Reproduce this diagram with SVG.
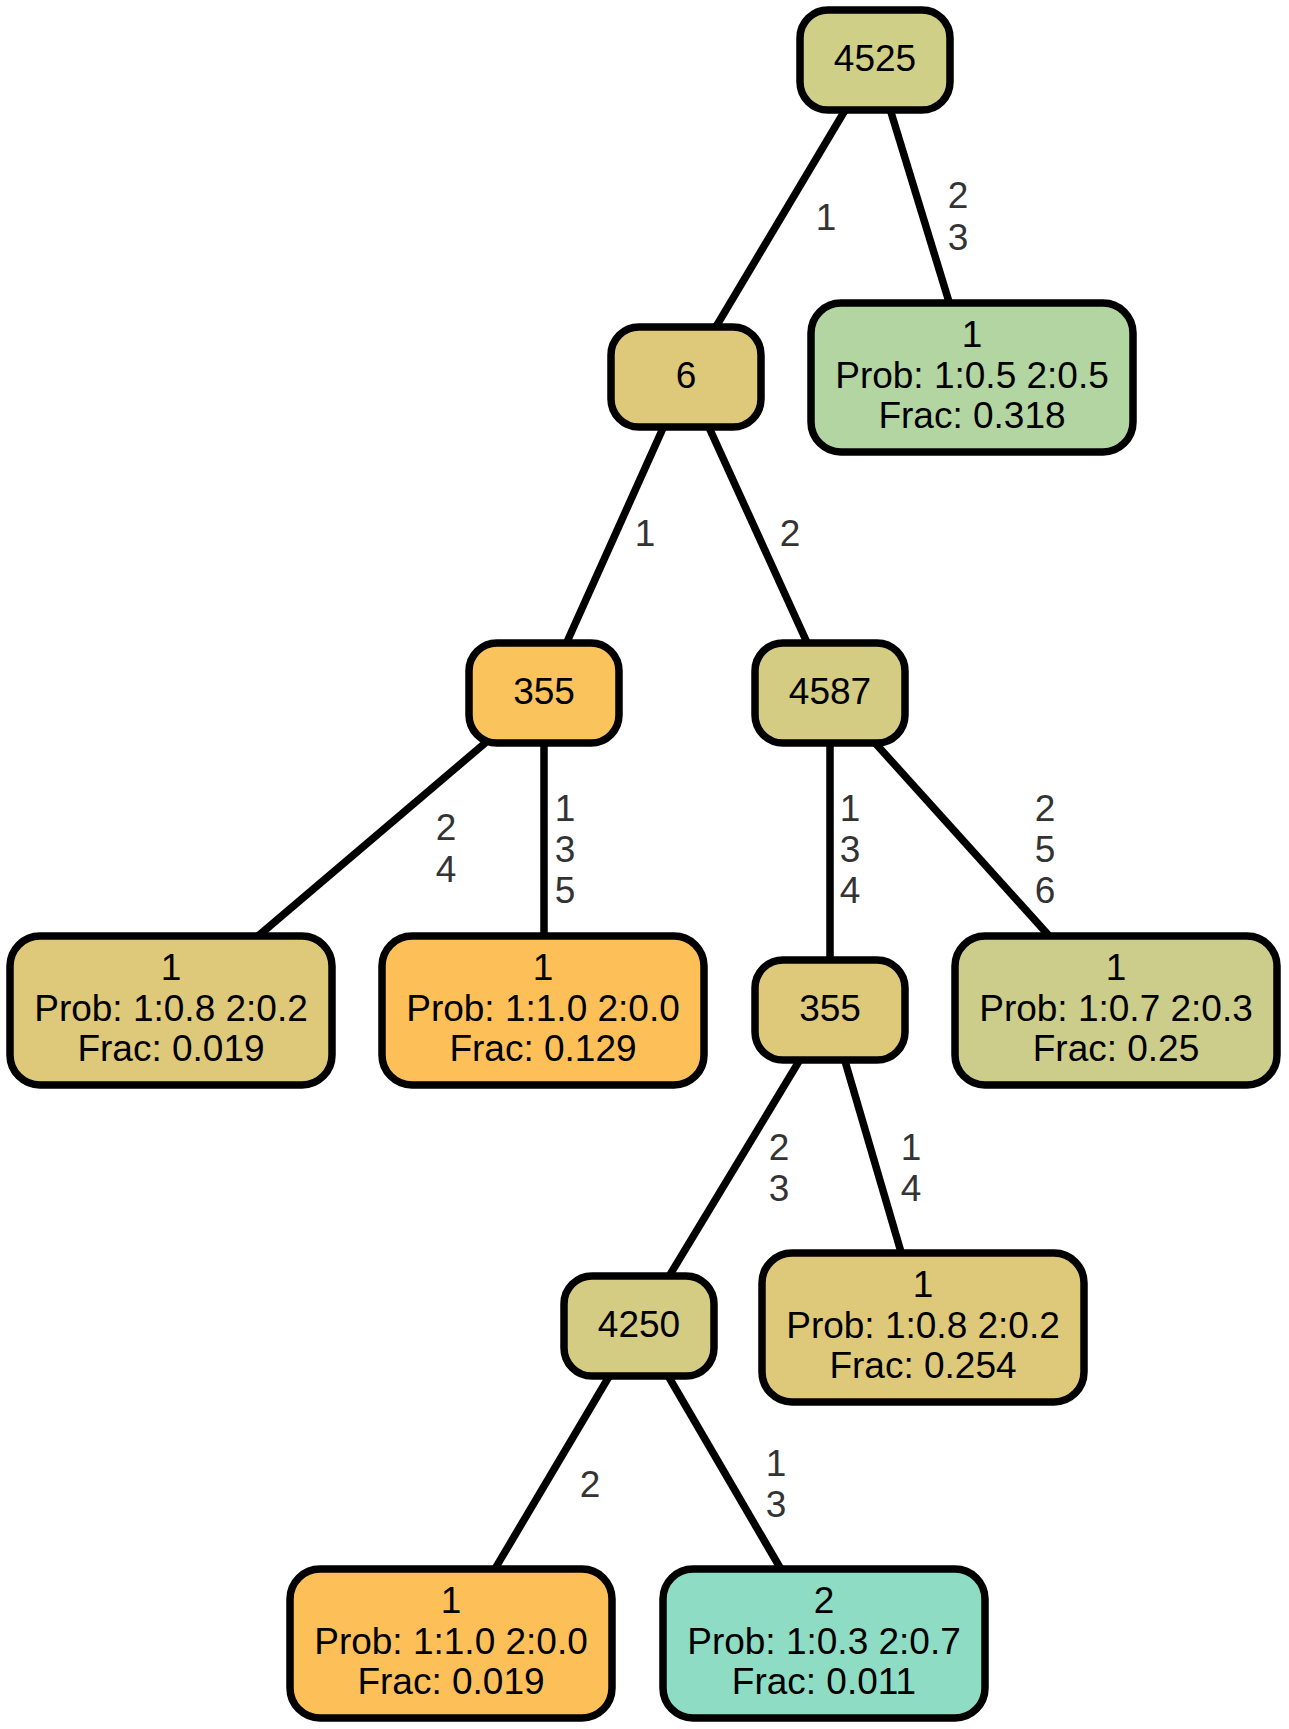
<svg xmlns="http://www.w3.org/2000/svg" width="1289" height="1729" viewBox="0 0 1289 1729">
<style>
.n rect{stroke:#000;stroke-width:7.5}
.n text{font-family:"Liberation Sans",Arial,sans-serif;font-size:37px;fill:#000;text-anchor:middle}
.e line{stroke:#000;stroke-width:7.5}
.e text{font-family:"Liberation Sans",Arial,sans-serif;font-size:37px;fill:#333;text-anchor:middle}
</style>
<rect width="1289" height="1729" fill="#fff"/>
<g id="edges" class="e">
<line x1="875" y1="60" x2="686" y2="377"/>
<line x1="875" y1="60" x2="972" y2="377"/>
<line x1="686" y1="377" x2="544" y2="693"/>
<line x1="686" y1="377" x2="830" y2="693"/>
<line x1="544" y1="693" x2="171" y2="1010"/>
<line x1="544" y1="693" x2="544" y2="1010"/>
<line x1="830" y1="693" x2="830" y2="1010"/>
<line x1="830" y1="693" x2="1116" y2="1010"/>
<line x1="830" y1="1010" x2="639" y2="1326"/>
<line x1="830" y1="1010" x2="923" y2="1327"/>
<line x1="639" y1="1326" x2="451" y2="1643"/>
<line x1="639" y1="1326" x2="824" y2="1643"/>
<text x="826" y="230">1</text>
<text x="958" y="208">2</text><text x="958" y="250">3</text>
<text x="645" y="546">1</text>
<text x="790" y="546">2</text>
<text x="446" y="840">2</text><text x="446" y="882">4</text>
<text x="565" y="821">1</text><text x="565" y="862">3</text><text x="565" y="903">5</text>
<text x="850" y="821">1</text><text x="850" y="862">3</text><text x="850" y="903">4</text>
<text x="1045" y="821">2</text><text x="1045" y="862">5</text><text x="1045" y="903">6</text>
<text x="779" y="1160">2</text><text x="779" y="1201">3</text>
<text x="911" y="1160">1</text><text x="911" y="1201">4</text>
<text x="590" y="1497">2</text>
<text x="776" y="1476">1</text><text x="776" y="1517">3</text>
</g>
<g id="n4525" class="n"><rect x="800" y="10" width="150" height="100" rx="28" fill="#d0cf87"/><text x="875" y="71">4525</text></g>
<g id="n6" class="n"><rect x="611" y="327" width="150" height="100" rx="28" fill="#dec97a"/><text x="686" y="388">6</text></g>
<g id="leafG" class="n"><rect x="811" y="303" width="322" height="149" rx="30" fill="#b2d5a1"/><text x="972" y="347">1</text><text x="972" y="388">Prob: 1:0.5 2:0.5</text><text x="972" y="428">Frac: 0.318</text></g>
<g id="n355a" class="n"><rect x="469" y="643" width="150" height="100" rx="28" fill="#fbc35b"/><text x="544" y="704">355</text></g>
<g id="n4587" class="n"><rect x="755" y="643" width="150" height="100" rx="28" fill="#d4cc82"/><text x="830" y="704">4587</text></g>
<g id="leafA" class="n"><rect x="10" y="936" width="322" height="149" rx="30" fill="#dec97a"/><text x="171" y="980">1</text><text x="171" y="1021">Prob: 1:0.8 2:0.2</text><text x="171" y="1061">Frac: 0.019</text></g>
<g id="leafB" class="n"><rect x="382" y="936" width="322" height="149" rx="30" fill="#fdc058"/><text x="543" y="980">1</text><text x="543" y="1021">Prob: 1:1.0 2:0.0</text><text x="543" y="1061">Frac: 0.129</text></g>
<g id="n355b" class="n"><rect x="755" y="960" width="150" height="100" rx="28" fill="#dec97a"/><text x="830" y="1021">355</text></g>
<g id="leafC" class="n"><rect x="955" y="936" width="322" height="149" rx="30" fill="#cccd8b"/><text x="1116" y="980">1</text><text x="1116" y="1021">Prob: 1:0.7 2:0.3</text><text x="1116" y="1061">Frac: 0.25</text></g>
<g id="n4250" class="n"><rect x="564" y="1276" width="150" height="100" rx="28" fill="#d4cc82"/><text x="639" y="1337">4250</text></g>
<g id="leafD" class="n"><rect x="762" y="1253" width="322" height="149" rx="30" fill="#dec97a"/><text x="923" y="1297">1</text><text x="923" y="1338">Prob: 1:0.8 2:0.2</text><text x="923" y="1378">Frac: 0.254</text></g>
<g id="leafE" class="n"><rect x="290" y="1569" width="322" height="149" rx="30" fill="#fdc058"/><text x="451" y="1613">1</text><text x="451" y="1654">Prob: 1:1.0 2:0.0</text><text x="451" y="1694">Frac: 0.019</text></g>
<g id="leafF" class="n"><rect x="663" y="1569" width="322" height="149" rx="30" fill="#8fdcc4"/><text x="824" y="1613">2</text><text x="824" y="1654">Prob: 1:0.3 2:0.7</text><text x="824" y="1694">Frac: 0.011</text></g>
</svg>
